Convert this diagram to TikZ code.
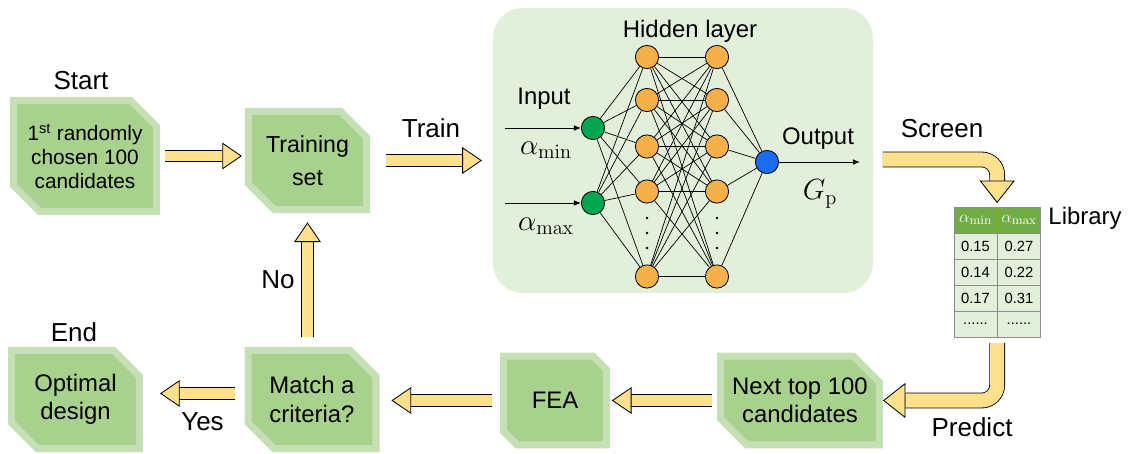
\documentclass[tikz,border=0pt]{standalone}
\usepackage{amsmath}
\usepackage[no-math]{fontspec}
\setmainfont{Liberation Sans}
\usetikzlibrary{shapes.misc,arrows.meta,calc}

\definecolor{boxfill}{HTML}{A9D18E}
\definecolor{boxline}{HTML}{C5E0B4}
\definecolor{panelfill}{HTML}{E2EFDA}
\definecolor{arrfill}{HTML}{FFE08C}
\definecolor{hidfill}{HTML}{F5B04A}
\definecolor{infill}{HTML}{00A650}
\definecolor{outfill}{HTML}{1A6CF5}
\definecolor{headfill}{HTML}{70AD47}
\definecolor{cellfill}{HTML}{E2EFDA}

\newcommand\tabdots{......}

\tikzset{
  stepbox/.style={chamfered rectangle, chamfered rectangle corners={north east,south west},
    chamfered rectangle xsep=15pt, draw=boxline, fill=boxfill, line width=5pt,
    align=center, inner xsep=-13pt, inner ysep=0pt, outer sep=0pt, font=\fontsize{17}{20}\selectfont},
  lbl/.style={font=\fontsize{18.5}{22}\selectfont, inner sep=0pt},
  nnlbl/.style={font=\fontsize{17}{20}\selectfont, inner sep=0pt},
  mathlbl/.style={font=\fontsize{20}{24}\selectfont, inner sep=0pt},
  barrow/.style={draw=black, line width=0.6pt, double=arrfill, double distance=7.5pt,
    -{Triangle[length=14pt,width=19pt,fill=arrfill]}},
  bentarrow/.style={draw=black, line width=0.6pt, double=arrfill, double distance=10pt,
    rounded corners=11pt, -{Triangle[length=16pt,width=25pt,fill=arrfill]}},
  hid/.style={circle, draw, fill=hidfill, minimum size=16.5pt, inner sep=0pt, line width=0.6pt},
  innode/.style={hid, fill=infill},
  outnode/.style={hid, fill=outfill},
  nnline/.style={line width=0.5pt},
  nnarrow/.style={line width=0.6pt, -{Latex[length=5pt,width=4pt]}},
  tabcell/.style={rectangle, draw=black!45, fill=cellfill, line width=0.4pt, outer sep=0pt,
    minimum width=30.8pt, minimum height=18.5pt, inner sep=0pt, font=\fontsize{10.5}{12}\selectfont},
  headcell/.style={tabcell, fill=headfill, text=white, font=\fontsize{13}{14}\selectfont},
}

\begin{document}
\begin{tikzpicture}[x=0.025cm, y=-0.025cm]
\useasboundingbox (0,0) rectangle (1129,453);

% flow chart boxes
\node[stepbox, font=\fontsize{14.8}{17}\selectfont, minimum width=101.7pt, minimum height=79pt] (start) at (85,156) {1\textsuperscript{st} randomly\\chosen 100\\candidates};
\node[stepbox, font=\fontsize{16.5}{23.5}\selectfont, minimum width=84pt, minimum height=70pt] (train) at (307.5,160.5) {Training\\set};
\node[stepbox, minimum width=91pt, minimum height=70pt] (match) at (312,399.5) {Match a\\criteria?};
\node[stepbox, minimum width=91pt, minimum height=70pt] (optimal) at (75.5,399.5) {Optimal\\design};
\node[stepbox, minimum width=73pt, minimum height=63pt] (fea) at (555,400.5) {FEA};
\node[stepbox, minimum width=113pt, minimum height=63pt] (next) at (800,400.5) {Next top 100\\candidates};

% labels
\node[lbl] (startlbl) at (81,81) {Start};
\node[lbl] (endlbl) at (74,332) {End};
\node[lbl] (trainlbl) at (431,128) {Train};
\node[lbl] (screenlbl) at (942,128.5) {Screen};
\node[lbl] (predictlbl) at (972,427.5) {Predict};
\node[lbl] (yeslbl) at (202.5,422) {Yes};
\node[lbl] (nolbl) at (278,280) {No};
\node[nnlbl] (liblbl) at (1085,218) {Library};

% neural network
\node[rectangle, fill=panelfill, rounded corners=21pt, minimum width=270pt, minimum height=202.7pt, inner sep=0pt] (panel) at (683,150.5) {};
\node[nnlbl] (hidlbl) at (690,31) {Hidden layer};
\node[nnlbl] (inlbl) at (544,99) {Input};
\node[nnlbl] (outlbl) at (818,139) {Output};
\node[mathlbl] (amin) at (546,150) {$\alpha_{\mathrm{min}}$};
\node[mathlbl] (amax) at (546,226) {$\alpha_{\mathrm{max}}$};
\node[mathlbl] (gp) at (820,194) {$G_{\mathrm{p}}$};

\foreach \i/\y in {1/57,2/100,3/146.5,4/191.5,5/276.5} {
  \node[hid] (ha\i) at (647,\y) {};
  \node[hid] (hb\i) at (717,\y) {};
}
\node[innode] (in1) at (593,128) {};
\node[innode] (in2) at (593,203) {};
\node[outnode] (out) at (767,162) {};

\foreach \i in {1,...,5} {
  \draw[nnline] (in1) -- (ha\i);
  \draw[nnline] (in2) -- (ha\i);
  \draw[nnline] (hb\i) -- (out);
  \foreach \j in {1,...,5}
    \draw[nnline] (ha\i) -- (hb\j);
}
\foreach \x in {647,717}
  \foreach \y in {218,233,248}
    \fill (\x,\y) circle (1.3);

\coordinate (x1) at (505,128);
\coordinate (x2) at (505,203);
\coordinate (y1) at (860,162);
\draw[nnarrow] (x1) -- (in1);
\draw[nnarrow] (x2) -- (in2);
\draw[nnarrow] (out) -- (y1);

% library table
\node[headcell] (tabA0) at (975.5,220) {$\alpha_{\mathrm{min}}$};
\node[headcell] (tabB0) at (1019,220) {$\alpha_{\mathrm{max}}$};
\foreach \r/\a/\b in {1/0.15/0.27, 2/0.14/0.22, 3/0.17/0.31, 4/\tabdots/\tabdots} {
  \node[tabcell] (tabA\r) at (975.5,{220+26*\r}) {\a};
  \node[tabcell] (tabB\r) at (1019,{220+26*\r}) {\b};
}

% block arrows
\draw[barrow, shorten <=6pt, shorten >=4.6pt] (start.east) -- (start.east -| train.west);
\draw[barrow, shorten <=13.9pt, shorten >=7.8pt] (train.east) -- (train.east -| panel.west);
\draw[barrow, shorten <=6pt, shorten >=3.9pt] (next.west) -- (next.west -| fea.east);
\draw[barrow, shorten <=8.2pt, shorten >=11pt] (fea.west) -- (fea.west -| match.east);
\coordinate (yesarr) at ($(match.west)+(0,-6)$);
\draw[barrow, shorten <=9.6pt, shorten >=14.6pt] (yesarr) -- (yesarr -| optimal.east);
\draw[barrow, shorten <=9.6pt, shorten >=9pt] (match.north -| train.south) -- (train.south);

\coordinate (scr) at ($(panel.east)+(0,9)$);
\draw[bentarrow, shorten <=7pt, shorten >=2.8pt] (scr) -- (scr -| tabA0.north east) -- (tabA0.north east);
\draw[bentarrow, shorten <=4.3pt, shorten >=2.5pt] (tabA4.south east) -- (tabA4.south east |- next.east) -- (next.east);
\end{tikzpicture}
\end{document}
